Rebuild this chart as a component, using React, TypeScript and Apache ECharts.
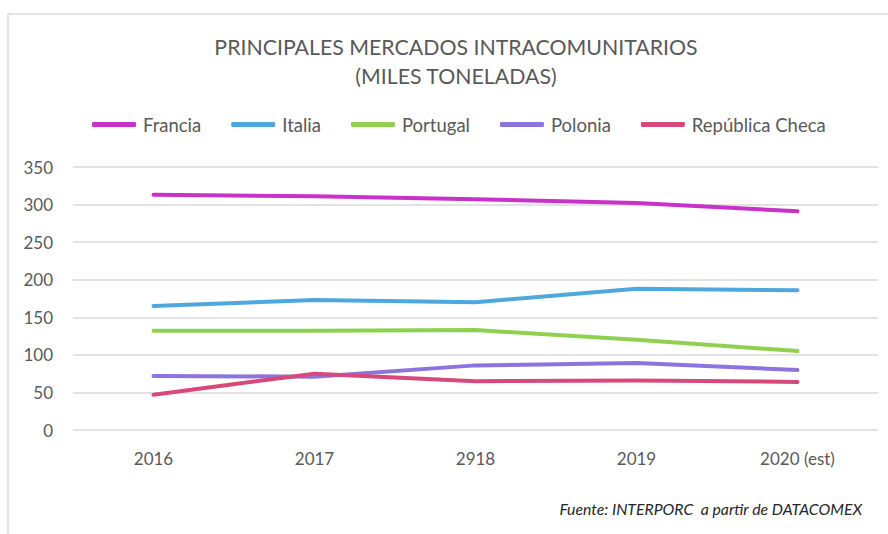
import React, { useEffect, useRef } from "react";
import * as echarts from "echarts";

const categories = ["2016", "2017", "2918", "2019", "2020 (est)"];
const francia = [313, 311, 307, 302, 291];
const italia = [165, 173, 170, 188, 186];
const portugal = [132, 132, 133, 120, 105];
const polonia = [72, 71, 86, 89, 80];
const republicaCheca = [47, 75, 65, 66, 64];
const yTicks = { min: 0, max: 350, interval: 50 };

const FONT = "Lato, 'Liberation Sans', sans-serif";
const GRAY = "#595959";

export default function App() {
  const ref = useRef<HTMLDivElement>(null);
  useEffect(() => {
    document.body.style.margin = "0";
    const chart = echarts.init(ref.current!, null, { renderer: "svg" });
    const mk = (name: string, data: number[], color: string) => ({
      name,
      type: "line",
      data,
      symbol: "none",
      smooth: false,
      lineStyle: { width: 4, color, cap: "round", join: "round" },
      itemStyle: { color },
    });
    chart.setOption({
      animation: false,
      backgroundColor: "#ffffff",
      textStyle: { fontFamily: FONT },
      graphic: [
        {
          type: "rect",
          shape: { x: 8, y: 14, width: 900, height: 600 },
          style: { fill: "none", stroke: "#d9d9d9", lineWidth: 1.5 },
          silent: true,
        },
        {
          type: "text",
          x: 456,
          y: 47,
          style: {
            text: "PRINCIPALES MERCADOS INTRACOMUNITARIOS",
            fill: GRAY,
            fontSize: 21.3,
            fontFamily: FONT,
            align: "center",
            verticalAlign: "middle",
          },
        },
        {
          type: "text",
          x: 456,
          y: 76,
          style: {
            text: "(MILES TONELADAS)",
            fill: GRAY,
            fontSize: 21.3,
            fontFamily: FONT,
            align: "center",
            verticalAlign: "middle",
          },
        },
        {
          type: "text",
          x: 862,
          y: 508,
          style: {
            text: "Fuente: INTERPORC  a partir de DATACOMEX",
            fill: "#262626",
            fontSize: 15.8,
            fontStyle: "italic",
            fontFamily: FONT,
            align: "right",
            verticalAlign: "middle",
          },
        },
      ],
      legend: {
        top: 110,
        left: 87,
        icon: "roundRect",
        itemWidth: 44,
        itemHeight: 5,
        itemGap: 30,
        textStyle: { color: GRAY, fontSize: 18.5, fontFamily: FONT, padding: [0, 0, 0, 2] },
        data: ["Francia", "Italia", "Portugal", "Polonia", "República Checa"],
      },
      grid: { left: 73, right: 10, top: 167, bottom: 104, containLabel: false },
      xAxis: {
        type: "category",
        data: categories,
        boundaryGap: true,
        axisLine: { show: false },
        axisTick: { show: false },
        axisLabel: { color: GRAY, fontSize: 17, fontFamily: FONT, margin: 20 },
      },
      yAxis: {
        type: "value",
        min: yTicks.min,
        max: yTicks.max,
        interval: yTicks.interval,
        axisLine: { show: false },
        axisTick: { show: false },
        axisLabel: { color: GRAY, fontSize: 17, fontFamily: FONT, margin: 20 },
        splitLine: { lineStyle: { color: "#d9d9d9", width: 1.5 } },
      },
      series: [
        mk("Francia", francia, "#C832C8"),
        mk("Italia", italia, "#4EA7DD"),
        mk("Portugal", portugal, "#8FD14F"),
        mk("Polonia", polonia, "#8C74DE"),
        mk("República Checa", republicaCheca, "#D6497A"),
      ],
    });
    return () => chart.dispose();
  }, []);
  return <div ref={ref} style={{ width: 888, height: 534 }} />;
}
